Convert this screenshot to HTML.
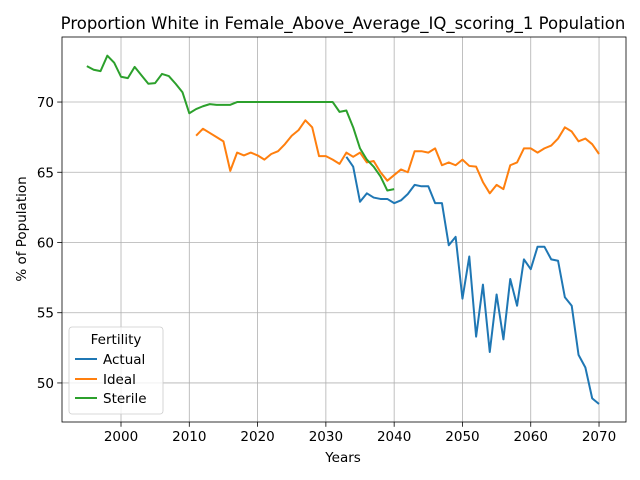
<!DOCTYPE html>
<html><head><meta charset="utf-8"><style>body{margin:0;background:#fff}svg{display:block;font-family:"DejaVu Sans","Liberation Sans",sans-serif}</style></head>
<body>
<svg id="chart" width="640" height="480" xmlns="http://www.w3.org/2000/svg"></svg>
<script>
const xTicks=[2000,2010,2020,2030,2040,2050,2060,2070];
const yTicks=[50,55,60,65,70];
const sterileStart=1995;
const sterileVals=[72.56,72.3,72.2,73.3,72.8,71.8,71.7,72.5,71.9,71.3,71.35,72.0,71.85,71.3,70.7,69.2,69.5,69.7,69.85,69.8,69.8,69.8,70,70,70,70,70,70,70,70,70,70,70,70,70,70,70,69.3,69.4,68.2,66.7,65.9,65.4,64.7,63.7,63.8];
const idealStart=2011;
const idealVals=[67.6,68.1,67.8,67.5,67.2,65.1,66.4,66.2,66.4,66.2,65.9,66.3,66.5,67.0,67.6,68.0,68.7,68.2,66.15,66.15,65.9,65.6,66.4,66.1,66.4,65.7,65.8,65.0,64.4,64.8,65.2,65.0,66.5,66.5,66.4,66.7,65.5,65.7,65.5,65.9,65.45,65.4,64.3,63.5,64.1,63.8,65.5,65.7,66.7,66.7,66.4,66.7,66.9,67.4,68.2,67.9,67.2,67.4,67.0,66.3];
const actualStart=2033;
const actualVals=[66.1,65.4,62.9,63.5,63.2,63.1,63.1,62.8,63.0,63.45,64.1,64.0,64.0,62.8,62.8,59.8,60.4,56.0,59.0,53.3,57.0,52.2,56.3,53.1,57.4,55.5,58.8,58.1,59.7,59.7,58.8,58.7,56.1,55.5,52.0,51.1,48.9,48.5];
const L=62,R=626,T=37,B=422;
const xMin=1991.36,xMax=2073.95,yMin=47.22,yMax=74.63;
const X=v=>L+(v-xMin)/(xMax-xMin)*(R-L);
const Y=v=>B-(v-yMin)/(yMax-yMin)*(B-T);
const svg=document.getElementById('chart');
const NS='http://www.w3.org/2000/svg';
function mk(tag,attrs,parent){const e=document.createElementNS(NS,tag);for(const k in attrs)e.setAttribute(k,attrs[k]);(parent||svg).appendChild(e);return e;}
xTicks.forEach(t=>{const g=mk('g',{});


mk('line',{x1:X(t),x2:X(t),y1:T,y2:B,stroke:'#b0b0b0','stroke-width':0.8},g);
mk('line',{x1:X(t),x2:X(t),y1:B,y2:B+4.8,stroke:'#000','stroke-width':0.8},g);
const tx=mk('text',{x:X(t),y:B+19,'text-anchor':'middle','font-size':13.5},g);tx.textContent=t;});
yTicks.forEach(t=>{const g=mk('g',{});


mk('line',{x1:L,x2:R,y1:Y(t),y2:Y(t),stroke:'#b0b0b0','stroke-width':0.8},g);
mk('line',{x1:L-4.8,x2:L,y1:Y(t),y2:Y(t),stroke:'#000','stroke-width':0.8},g);
const tx=mk('text',{x:L-8,y:Y(t)+5,'text-anchor':'end','font-size':13.5},g);tx.textContent=t;});
function series(name,start,vals,color){
const pts=vals.map((v,i)=>X(start+i).toFixed(2)+','+Y(v).toFixed(2)).join(' ');
const p=mk('polyline',{points:pts,fill:'none',stroke:color,'stroke-width':2,'stroke-linejoin':'round'});

}
series('actual',actualStart,actualVals,'#1f77b4');
series('ideal',idealStart,idealVals,'#ff7f0e');
series('sterile',sterileStart,sterileVals,'#2ca02c');
</script>
<svg style="position:absolute;left:0;top:0" width="640" height="480" xmlns="http://www.w3.org/2000/svg" font-family="DejaVu Sans, Liberation Sans, sans-serif">
<rect x="62" y="37" width="564" height="385" fill="none" stroke="#000" stroke-width="0.8"/>
<text x="343" y="29" text-anchor="middle" font-size="16.5">Proportion White in Female_Above_Average_IQ_scoring_1 Population</text>
<text x="343" y="462" text-anchor="middle" font-size="13.5">Years</text>
<text transform="translate(26,229) rotate(-90)" text-anchor="middle" font-size="13.5">% of Population</text>
<g>
<rect x="69" y="327" width="94" height="87" rx="3" fill="#fff" fill-opacity="0.8" stroke="#ccc" stroke-width="0.8"/>
<text x="116" y="344" text-anchor="middle" font-size="13.5">Fertility</text>
<g><line x1="75" x2="97" y1="359" y2="359" stroke="#1f77b4" stroke-width="2"/><text x="103" y="364" font-size="13.5">Actual</text></g>
<g><line x1="75" x2="97" y1="379" y2="379" stroke="#ff7f0e" stroke-width="2"/><text x="103" y="384" font-size="13.5">Ideal</text></g>
<g><line x1="75" x2="97" y1="398" y2="398" stroke="#2ca02c" stroke-width="2"/><text x="103" y="403" font-size="13.5">Sterile</text></g>
</g>
</svg>
</body></html>
